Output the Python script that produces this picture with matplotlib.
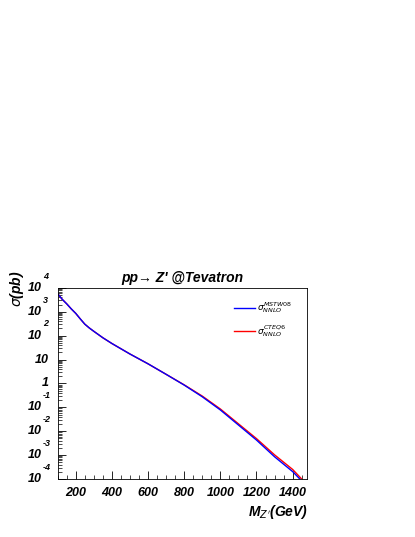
import matplotlib
matplotlib.use("Agg")
import matplotlib.pyplot as plt
import numpy as np

plt.rcParams["font.family"] = ["Liberation Sans", "DejaVu Sans"]

# Z' mass (GeV) and log10 of cross section (pb)
mass = [100, 110, 125, 150, 175, 200, 225, 250, 275, 300, 350, 400, 500,
        600, 700, 800, 900, 1000, 1100, 1200, 1300, 1400, 1440]
log_mstw = [3.76, 3.66, 3.52, 3.33, 3.12, 2.93, 2.70, 2.48, 2.32, 2.18, 1.91,
            1.67, 1.23, 0.82, 0.38, -0.07, -0.56, -1.11, -1.74, -2.37,
            -3.07, -3.69, -4.0]
mass_cteq = [100, 110, 125, 150, 175, 200, 225, 250, 275, 300, 350, 400, 500,
             600, 700, 800, 900, 1000, 1100, 1200, 1300, 1400, 1450]
log_cteq = [3.76, 3.66, 3.52, 3.33, 3.12, 2.93, 2.70, 2.48, 2.32, 2.18, 1.91,
            1.67, 1.23, 0.82, 0.38, -0.06, -0.53, -1.07, -1.69, -2.31,
            -2.99, -3.6, -4.0]
xticks = [200, 400, 600, 800, 1000, 1200, 1400]
exponents = [4, 3, 2, 1, 0, -1, -2, -3, -4]

fig = plt.figure(figsize=(4.15, 5.37), dpi=100)
ax = fig.add_axes([0.139, 0.108, 0.601, 0.356])

ax.plot(mass_cteq, np.power(10.0, log_cteq), color="red", lw=1.0)
ax.plot(mass, np.power(10.0, log_mstw), color="blue", lw=1.0)

ax.set_yscale("log")
ax.set_xlim(100, 1480)
ax.set_ylim(1e-4, 1e4)

ax.set_xticks(xticks)
ax.set_xticks(np.arange(100, 1480, 50), minor=True)
ax.tick_params(axis="both", which="both", direction="in", top=False, right=False)
ax.tick_params(which="major", length=6, width=0.6)
ax.tick_params(which="minor", length=3, width=0.5)
ax.set_xticklabels([str(t) for t in xticks], fontsize=9, fontweight="bold",
                   fontstyle="italic")
ax.tick_params(axis="x", pad=6)
ax.yaxis.set_major_locator(matplotlib.ticker.LogLocator(base=10, numticks=20))
ax.yaxis.set_minor_locator(
    matplotlib.ticker.LogLocator(base=10, subs=np.arange(2, 10), numticks=20))
ax.yaxis.set_minor_formatter(matplotlib.ticker.NullFormatter())
ax.yaxis.set_major_formatter(matplotlib.ticker.NullFormatter())

# ROOT-style y tick labels: "10" with a detached exponent
tf = ax.get_yaxis_transform()
lab = dict(fontsize=9, fontweight="bold", fontstyle="italic")
for e in exponents:
    if e == 0:
        ax.text(-0.035, 1, "1", transform=tf, ha="right", va="center", **lab)
    elif e == 1:
        ax.text(-0.035, 10, "10", transform=tf, ha="right", va="center", **lab)
    else:
        ax.text(-0.065, 10.0 ** e, "10", transform=tf, ha="right",
                va="center", **lab)
        ax.text(-0.06, 10.0 ** e * 2.0, str(e), transform=tf, ha="left",
                va="bottom", fontsize=6.5, fontweight="bold", fontstyle="italic")

for s in ax.spines.values():
    s.set_linewidth(0.6)

ax.set_title("pp\u2192 Z' @Tevatron", fontsize=10, fontweight="bold",
             fontstyle="italic", pad=4)
fig.text(0.04, 0.497, r"$\sigma$(pb)", rotation=90, ha="center", va="top",
         fontsize=10, fontweight="bold", fontstyle="italic")
fig.text(0.742, 0.03, r"M$_{Z'}$(GeV)", ha="right", va="bottom", fontsize=10,
         fontweight="bold", fontstyle="italic")

# legend
ax.plot([0.705, 0.79], [0.895, 0.895], transform=ax.transAxes, color="blue", lw=1.0)
ax.plot([0.705, 0.79], [0.775, 0.775], transform=ax.transAxes, color="red", lw=1.0)
ax.text(0.8, 0.895, r"$\sigma^{MSTW08}_{NNLO}$", transform=ax.transAxes,
        fontsize=6.5, va="center")
ax.text(0.8, 0.775, r"$\sigma^{CTEQ6}_{NNLO}$", transform=ax.transAxes,
        fontsize=6.5, va="center")

fig.savefig("out.png", dpi=100)
